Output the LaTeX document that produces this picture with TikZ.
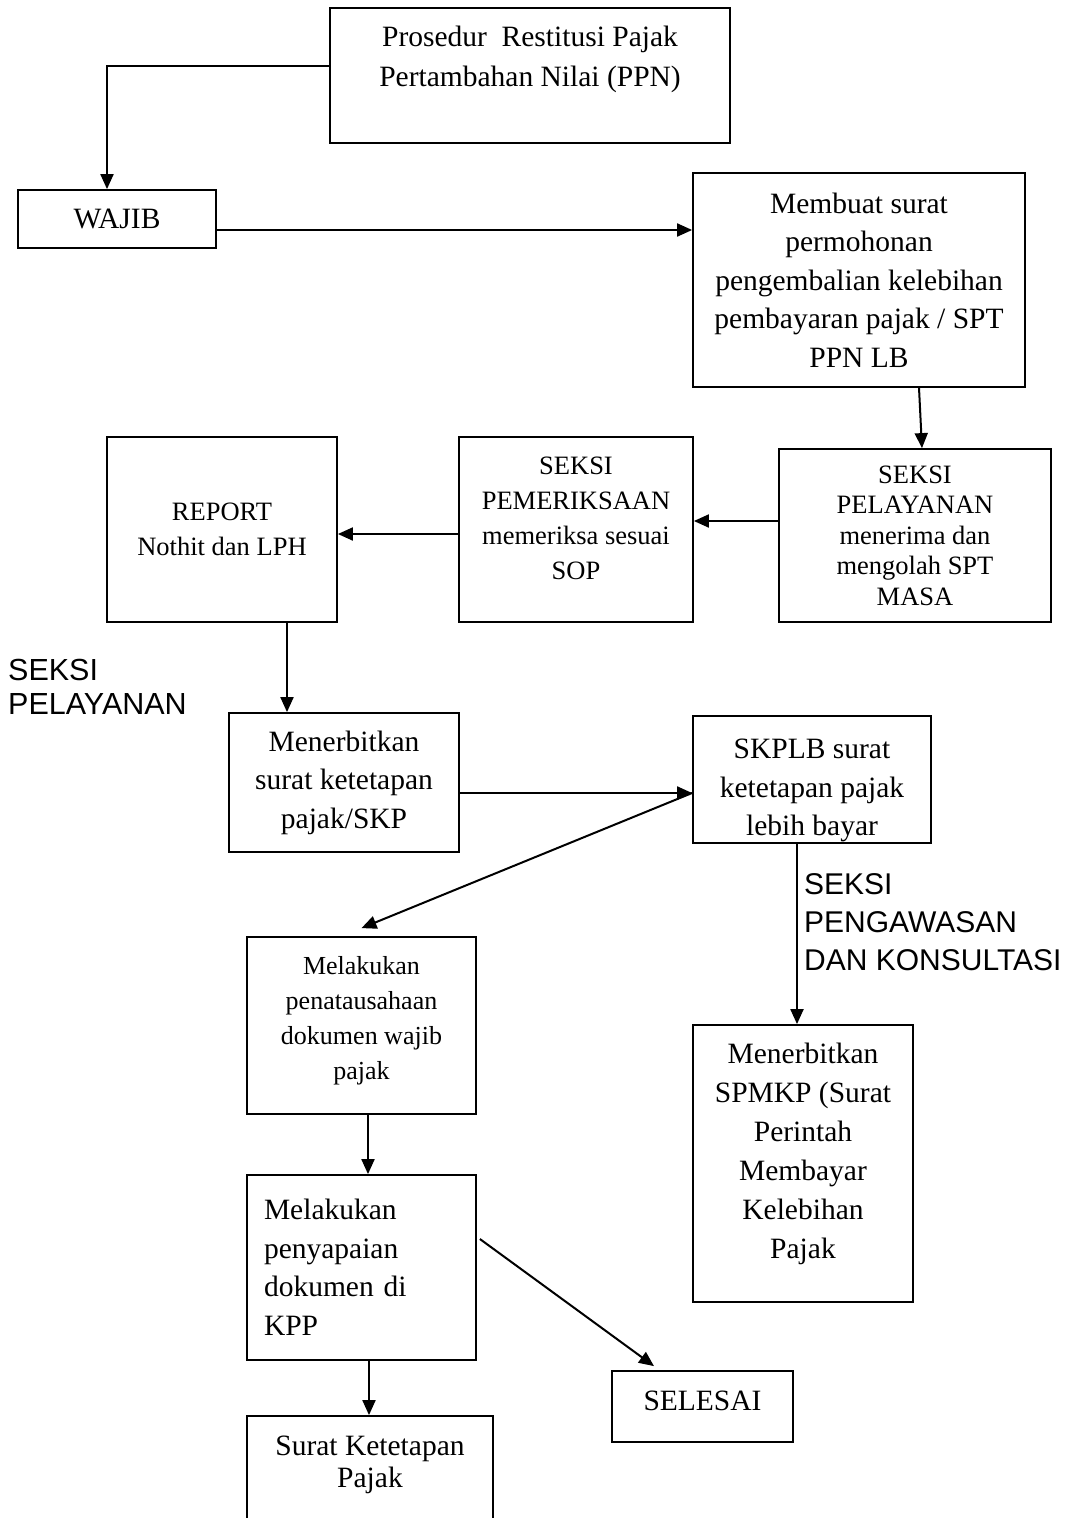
\documentclass[tikz,border=0pt]{standalone}
\usepackage{fontspec}
\setmainfont{Liberation Serif}
\newfontfamily\labelfont{Liberation Sans}
\usetikzlibrary{arrows.meta}

\begin{document}
\begin{tikzpicture}[x=1pt, y=-1pt,
    box/.style = {draw, line width=1.8pt, align=center, inner sep=4pt,
                  font=\fontsize{29.5}{38.5}\selectfont},
    flow/.style = {line width=2pt, -{Triangle[length=15pt, width=13pt]}},
    note/.style = {align=left, inner sep=0pt, anchor=west,
                   font=\labelfont\fontsize{30.5}{34.5}\selectfont}]
        \useasboundingbox (0,0) rectangle (1067,1518);

        \node[box, minimum width=400, minimum height=135,
              font=\fontsize{29.5}{40}\selectfont] (title) at (530,75.5)
            {Prosedur\ \ Restitusi Pajak\\Pertambahan Nilai (PPN)\\[-14pt]\strut};
        \node[box, minimum width=198, minimum height=58] (wajib) at (117,219) {WAJIB};
        \node[box, minimum width=332, minimum height=214] (surat) at (859,280)
            {Membuat surat\\permohonan\\pengembalian kelebihan\\pembayaran pajak / SPT\\PPN LB};

        \node[box, minimum width=272, minimum height=173,
              font=\fontsize{26.5}{30.5}\selectfont] (pelayanan) at (915,535.5)
            {SEKSI\\PELAYANAN\\menerima dan\\mengolah SPT\\MASA};
        \node[box, minimum width=234, minimum height=185,
              font=\fontsize{26.5}{35}\selectfont] (periksa) at (576,529.5)
            {SEKSI\\PEMERIKSAAN\\memeriksa sesuai\\SOP\\[-22pt]\strut};
        \node[box, minimum width=230, minimum height=185,
              font=\fontsize{26.5}{35}\selectfont] (report) at (222,529.5)
            {REPORT\\Nothit dan LPH};

        \node[note] (lblpel) at (8,687) {SEKSI\\PELAYANAN};

        \node[box, minimum width=230, minimum height=139] (skp) at (344,782.5)
            {Menerbitkan\\surat ketetapan\\pajak/SKP};
        \node[box, minimum width=238, minimum height=127, inner ysep=0pt] (skplb) at (812,779.5)
            {\strut\\[-24pt]SKPLB surat\\ketetapan pajak\\lebih bayar};

        \node[note, font=\labelfont\fontsize{30}{38}\selectfont] (lblawas) at (804,922)
            {SEKSI\\PENGAWASAN\\DAN KONSULTASI};

        \node[box, minimum width=229, minimum height=177,
              font=\fontsize{26}{35}\selectfont] (tataus) at (361.5,1025.5)
            {Melakukan\\penatausahaan\\dokumen wajib\\pajak\\[-30pt]\strut};
        \node[box, minimum width=220, minimum height=277,
              font=\fontsize{29.5}{39}\selectfont] (spmkp) at (803,1163.5)
            {Menerbitkan\\SPMKP (Surat\\Perintah\\Membayar\\Kelebihan\\Pajak\\[-26pt]\strut};
        \node[box, minimum width=229, minimum height=185, align=left,
              text width=195] (sampai) at (361.5,1267.5)
            {Melakukan\\penyapaian\\dokumen di\\KPP};
        \node[box, minimum width=181, minimum height=71] (selesai) at (702.5,1406.5)
            {SELESAI\\[-38pt]\strut};
        \node[box, minimum width=246, minimum height=144,
              font=\fontsize{29.5}{32}\selectfont] (ketetapan) at (370,1488)
            {Surat Ketetapan\\Pajak\\[10pt]\strut};

        % alur
        \draw[flow] ([yshift=9.5]title.west) -| ([xshift=-10]wajib.north);
        \draw[flow] ([yshift=-11]wajib.east) -- ([yshift=-11]wajib.east -| surat.west);
        \draw[flow] ([xshift=60]surat.south) -- ([xshift=7]pelayanan.north);
        \draw[flow] ([yshift=14.5]pelayanan.west) -- ([yshift=14.5]pelayanan.west -| periksa.east);
        \draw[flow] ([yshift=-4.5]periksa.west) -- ([yshift=-4.5]periksa.west -| report.east);
        \draw[flow] ([xshift=65]report.south) -- ([xshift=65]report.south |- skp.north);
        \coordinate (temu) at ([yshift=-10.5]skp.east -| skplb.west);
        \draw[flow] ([yshift=-10.5]skp.east) -- (temu);
        \draw[flow] (temu) -- ([yshift=8]tataus.north);
        \draw[flow] ([xshift=-15]skplb.south) -- ([xshift=-15]skplb.south |- spmkp.north);
        \draw[flow] ([xshift=6.5]tataus.south) -- ([xshift=6.5]tataus.south |- sampai.north);
        \draw[flow] ([xshift=3,yshift=28.5]sampai.east) -- ([xshift=-48.5,yshift=4]selesai.north);
        \draw[flow] ([xshift=7.5]sampai.south) -- ([xshift=7.5]sampai.south |- ketetapan.north);

\end{tikzpicture}
\end{document}
